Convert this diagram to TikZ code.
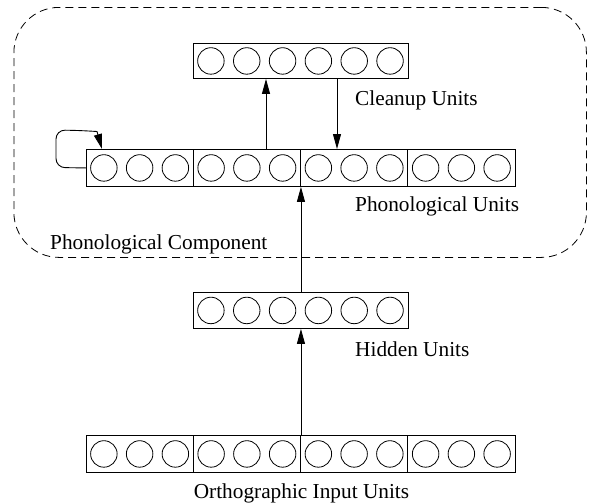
\documentclass[tikz,border=0pt]{standalone}
\usepackage{fontspec}
\setmainfont{Liberation Serif}
\usetikzlibrary{arrows.meta}
\begin{document}
\begin{tikzpicture}[x=1pt,y=-1pt,
  layer/.style={draw, line width=0.9pt, rectangle, inner sep=0pt, anchor=north west},
  unit/.style={line width=0.8pt},
  sep/.style={line width=0.9pt},
  lbl/.style={font=\fontsize{21.3}{25}\selectfont, inner sep=0pt, anchor=base west},
  conn/.style={line width=0.9pt, -{Triangle[length=15pt,width=8pt]}},
  frame/.style={draw, dash pattern=on 8pt off 5pt, line width=0.8pt, rounded corners=45pt, inner sep=0pt, anchor=north west}]
\useasboundingbox (0,0) rectangle (590,504);

% dashed component frame
\node[frame, minimum width=572.5pt, minimum height=250pt] (comp) at (13.5,7) {};

% layers
\node[layer, minimum width=215pt, minimum height=35pt] (cleanup) at (193,43) {};
\node[layer, minimum width=429pt, minimum height=37pt] (phon) at (86,149) {};
\node[layer, minimum width=215pt, minimum height=36pt] (hidden) at (193,292) {};
\node[layer, minimum width=429pt, minimum height=37pt] (ortho) at (86,435) {};

% units in six-unit layers
\foreach \b in {cleanup,hidden}{
  \foreach \i in {0,...,5}{
    \draw[unit] ([xshift={17.9pt+35.83pt*\i}]\b.west) circle (13.25pt);
  }
}
% units and group separators in twelve-unit layers
\foreach \b in {phon,ortho}{
  \foreach \i in {0,...,11}{
    \draw[unit] ([xshift={17.875pt+35.75pt*\i}]\b.west) circle (13.25pt);
  }
  \foreach \j in {1,2,3}{
    \draw[sep] ([xshift={107.25pt*\j}]\b.north west) -- ([xshift={107.25pt*\j}]\b.south west);
  }
}

% connectors
\coordinate (xa) at (266,0);
\coordinate (xb) at (337,0);
\draw[conn] (xa |- phon.north) -- (xa |- cleanup.south);
\draw[conn] (xb |- cleanup.south) -- (xb |- phon.north);
\draw[conn] (hidden.north) -- (hidden.north |- phon.south);
\draw[conn] (ortho.north) -- (hidden.south);
\coordinate (loopend) at ([xshift=16pt]phon.north west);
\draw[conn, rounded corners=9pt] (phon.west) -- (56,167.5) -- (56,130) -- (80,130.5) [sharp corners] -- (97,131.5) -- (loopend);

% labels
\node[lbl] (lclean) at (355,105) {Cleanup Units};
\node[lbl] (lphon) at (355,211.7) {Phonological Units};
\node[lbl] (lcomp) at (50,249.7) {Phonological Component};
\node[lbl] (lhid) at (355,356.7) {Hidden Units};
\node[lbl, anchor=base] (lorth) at (301.5,498) {Orthographic Input Units};
\end{tikzpicture}
\end{document}
